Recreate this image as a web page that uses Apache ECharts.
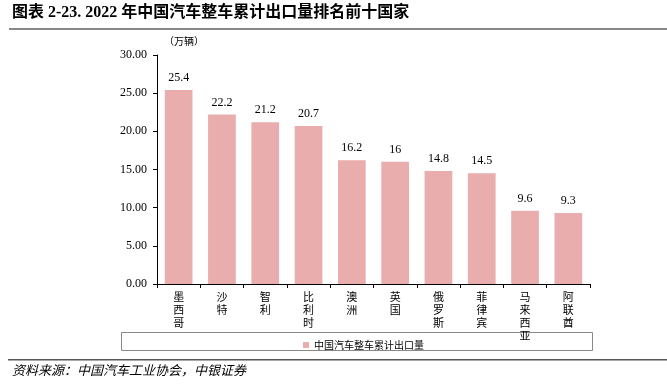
<!DOCTYPE html>
<html><head><meta charset="utf-8">
<script src="https://cdn.jsdelivr.net/npm/echarts@6/dist/echarts.min.js"></script>
<style>html,body{margin:0;padding:0;background:#fff}#c{width:667px;height:389px}</style>
</head><body><div id="c"></div>
<script>
var categories = ['墨西哥','沙特','智利','比利时','澳洲','英国','俄罗斯','菲律宾','马来西亚','阿联酋'];
var exportValues = [25.4, 22.2, 21.2, 20.7, 16.2, 16, 14.8, 14.5, 9.6, 9.3];
var seriesName = '中国汽车整车累计出口量';
var yTicks = {min: 0, max: 30, interval: 5};

var chart = echarts.init(document.getElementById('c'), null, {renderer: 'canvas'});
chart.setOption({
  animation: false,
  backgroundColor: '#fff',
  grid: {left: 157, right: 77, top: 55, bottom: 105, containLabel: false},
  xAxis: {
    type: 'category', data: categories,
    axisLine: {lineStyle: {color: '#000', width: 1}},
    axisTick: {show: true, length: 4, lineStyle: {color: '#000'}},
    axisLabel: {
      interval: 0, margin: 6, color: '#000', fontSize: 11, lineHeight: 13,
      fontFamily: 'Noto Sans CJK SC',
      formatter: function (v) { return v.split('').join('\n'); }
    }
  },
  yAxis: {
    type: 'value', min: yTicks.min, max: yTicks.max, interval: yTicks.interval,
    splitLine: {show: false},
    axisLine: {show: true, lineStyle: {color: '#000', width: 1}},
    axisTick: {show: true, length: 4, lineStyle: {color: '#000'}},
    axisLabel: {color: '#000', fontSize: 12, fontFamily: 'Liberation Serif', margin: 10,
      formatter: function (v) { return v.toFixed(2); }}
  },
  legend: {
    show: true, left: 298, top: 335, itemWidth: 6, itemHeight: 6, itemGap: 4,
    icon: 'rect',
    textStyle: {fontSize: 10, color: '#000', fontFamily: 'Noto Sans CJK SC'},
    data: [seriesName]
  },
  series: [{
    name: seriesName, type: 'bar', data: exportValues, barWidth: '64%',
    itemStyle: {color: '#E9ADAD'},
    label: {show: true, position: 'top', distance: 6, color: '#000', fontSize: 12,
      fontFamily: 'Liberation Serif'}
  }],
  graphic: [
    {type: 'text', left: 12, top: 5, style: {text: '图表 2-23. 2022 年中国汽车整车累计出口量排名前十国家',
      font: 'bold 16px "Liberation Serif", "Noto Sans CJK SC"', fill: '#000'}},
    {type: 'rect', shape: {x: 9, y: 28, width: 658, height: 2}, style: {fill: '#888'}},
    {type: 'text', left: 164, top: 36, style: {text: '（万辆）', font: '10px "Noto Sans CJK SC"', fill: '#000'}},
    {type: 'rect', shape: {x: 121.5, y: 332.5, width: 471, height: 18}, style: {fill: 'none', stroke: '#888', lineWidth: 1}},
    {type: 'rect', shape: {x: 8, y: 359, width: 659, height: 1.5}, style: {fill: '#555'}},
    {type: 'text', left: 12, top: 364, style: {text: '资料来源：中国汽车工业协会，中银证券',
      font: 'italic 13px "Noto Sans CJK SC"', fill: '#000'}}
  ]
});
</script></body></html>
